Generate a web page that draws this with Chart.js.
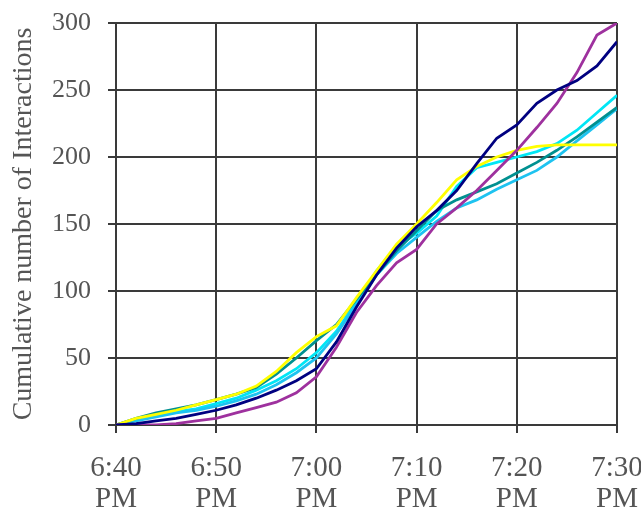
<!DOCTYPE html>
<html lang="en">

<head>
    <meta charset="UTF-8">
    <title>Cumulative interactions</title>
    <style>
        html, body { margin: 0; padding: 0; background: #fff; }
        #wrap { width: 641px; height: 512px; }
    </style>
</head>

<body>
    <script src="https://cdn.jsdelivr.net/npm/chart.js@4/dist/chart.umd.min.js"></script>

    <div id="wrap"><canvas id="chart" width="641" height="512"></canvas></div>

    <script>
        // minutes after 6:40 PM
        const minutes = [0, 2, 4, 6, 8, 10, 12, 14, 16, 18, 20, 22, 24, 26, 28, 30, 32, 34, 36, 38, 40, 42, 44, 46, 48, 50]
        const xTickLabels = ['6:40 PM', '6:50 PM', '7:00 PM', '7:10 PM', '7:20 PM', '7:30 PM']
        const yTicks = [0, 50, 100, 150, 200, 250, 300]

        const navy = [0, 1, 3, 5, 8, 11, 15, 20, 26, 33, 42, 62, 88, 112, 132, 148, 160, 175, 195, 214, 224, 240, 250, 257, 268, 286]
        const magenta = [0, 0, 0, 1, 3, 5, 9, 13, 17, 24, 36, 58, 84, 104, 121, 131, 150, 162, 175, 190, 205, 222, 240, 263, 291, 300]
        const yellow = [0, 5, 8, 11, 15, 19, 23, 29, 40, 54, 66, 74, 95, 115, 135, 150, 166, 183, 193, 200, 205, 208, 209, 209, 209, 209]
        const teal = [0, 5, 9, 12, 15, 19, 23, 28, 38, 50, 63, 75, 94, 112, 130, 145, 160, 168, 174, 180, 188, 196, 205, 215, 226, 237]
        const cyan = [0, 4, 7, 10, 12, 16, 20, 26, 33, 42, 54, 70, 92, 115, 133, 143, 156, 178, 192, 196, 200, 204, 210, 220, 233, 246]
        const skyBlue = [0, 3, 6, 9, 11, 14, 18, 23, 30, 39, 50, 68, 90, 112, 128, 140, 152, 162, 168, 176, 183, 190, 200, 212, 224, 236]

        const series = [
            { name: 'navy', values: navy, color: '#000080' },
            { name: 'magenta', values: magenta, color: '#9e319e' },
            { name: 'yellow', values: yellow, color: '#ffff00' },
            { name: 'teal', values: teal, color: '#009090' },
            { name: 'skyBlue', values: skyBlue, color: '#1ec3f0' },
            { name: 'cyan', values: cyan, color: '#00e6f5' }
        ]

        const fontFamily = '"Liberation Serif", "Times New Roman", serif'
        const textColor = '#555'
        const gridColor = '#3a3a3a'

        // keep the plot box fixed, labels may hang over the edges
        const noPad = scale => {
            scale.paddingLeft = 0
            scale.paddingRight = 0
            scale.paddingTop = 0
            scale.paddingBottom = 0
        }

        const ctx = document.getElementById('chart').getContext('2d')

        new Chart(ctx, {
            type: 'line',
            data: {
                datasets: series.map(s => ({
                    label: s.name,
                    data: minutes.map((m, i) => ({ x: m, y: s.values[i] })),
                    borderColor: s.color,
                    backgroundColor: s.color,
                    borderWidth: 2.8,
                    pointRadius: 0,
                    tension: 0
                }))
            },
            options: {
                responsive: false,
                animation: false,
                layout: { padding: { left: 0, top: 23, right: 24, bottom: 0 } },
                plugins: {
                    legend: { display: false },
                    tooltip: { enabled: false }
                },
                scales: {
                    x: {
                        type: 'linear',
                        min: 0,
                        max: 50,
                        afterBuildTicks: scale => {
                            scale.ticks = xTickLabels.map((t, i) => ({ value: i * 10 }))
                        },
                        afterFit: scale => {
                            scale.height = 87
                            noPad(scale)
                        },
                        ticks: {
                            autoSkip: false,
                            maxRotation: 0,
                            padding: 19,
                            color: textColor,
                            font: { family: fontFamily, size: 29, lineHeight: 1.1 },
                            callback: (v, i) => xTickLabels[i].split(' ')
                        },
                        grid: { color: gridColor, lineWidth: 2, tickLength: 8 },
                        border: { color: gridColor, width: 2 }
                    },
                    y: {
                        min: 0,
                        max: 300,
                        afterBuildTicks: scale => {
                            scale.ticks = yTicks.map(v => ({ value: v }))
                        },
                        afterFit: scale => {
                            scale.width = 116
                            noPad(scale)
                        },
                        ticks: {
                            padding: 17,
                            color: textColor,
                            font: { family: fontFamily, size: 26 }
                        },
                        grid: { color: gridColor, lineWidth: 2, tickLength: 8 },
                        border: { color: gridColor, width: 2 },
                        title: {
                            display: true,
                            text: 'Cumulative number of Interactions',
                            color: textColor,
                            font: { family: fontFamily, size: 28, lineHeight: 1.2 },
                            padding: { top: 7, bottom: 0 }
                        }
                    }
                }
            }
        })
    </script>

</body>

</html>
